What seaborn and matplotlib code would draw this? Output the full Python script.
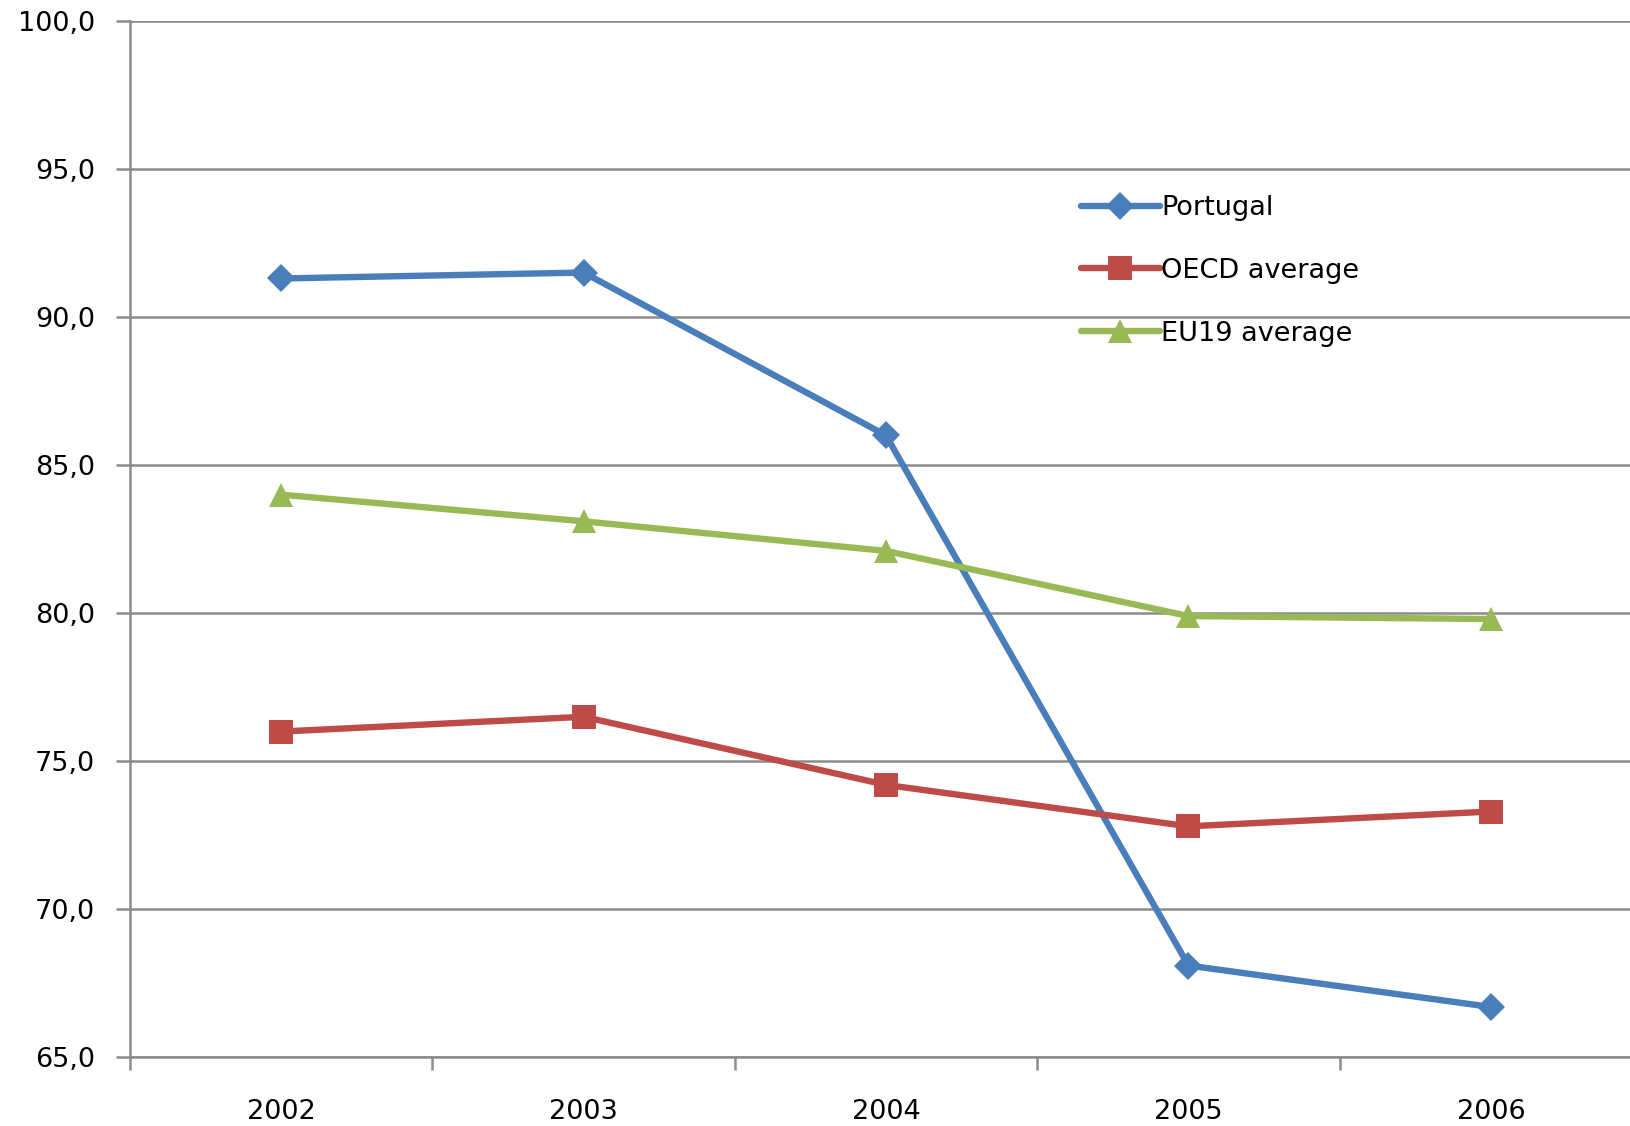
import matplotlib
matplotlib.use("Agg")
import pandas as pd
import seaborn as sns
from matplotlib import pyplot as plt
from matplotlib.ticker import FixedLocator, FuncFormatter

# values
years = ["2002", "2003", "2004", "2005", "2006"]
portugal = [91.3, 91.5, 86.0, 68.1, 66.7]
oecd = [76.0, 76.5, 74.2, 72.8, 73.3]
eu19 = [84.0, 83.1, 82.1, 79.9, 79.8]

series_names = ["Portugal", "OECD average", "EU19 average"]
colors = {"Portugal": "#4A7EBB", "OECD average": "#BE4B48", "EU19 average": "#98B954"}
markers = {"Portugal": "D", "OECD average": "s", "EU19 average": "^"}
msizes = {"Portugal": 14, "OECD average": 17, "EU19 average": 17}

df = pd.DataFrame({"pos": range(len(years)), "year": years,
                   "Portugal": portugal, "OECD average": oecd, "EU19 average": eu19})
long_df = df.melt(id_vars=["pos", "year"], var_name="series", value_name="value")

sns.set_theme(style="white")
plt.rcParams["font.family"] = ["DejaVu Sans"]

fig, ax = plt.subplots(figsize=(16.3, 11.26), dpi=100)
fig.subplots_adjust(left=0.0797, right=1.0, top=0.9815, bottom=0.061)

for name in series_names:
    sub = long_df[long_df["series"] == name]
    sns.lineplot(data=sub, x="pos", y="value", ax=ax, color=colors[name],
                 linewidth=4.6, marker=markers[name], markersize=msizes[name],
                 markeredgewidth=0, label=name)

ax.set_xlim(-0.5, 4.46)
ax.set_ylim(65, 100)
ax.yaxis.set_major_locator(FixedLocator([65, 70, 75, 80, 85, 90, 95, 100]))
ax.yaxis.set_major_formatter(FuncFormatter(lambda v, p: f"{v:.1f}".replace(".", ",")))
ax.xaxis.set_major_locator(FixedLocator(df["pos"].tolist()))
ax.set_xticklabels(years)
ax.xaxis.set_minor_locator(FixedLocator([-0.5, 0.5, 1.5, 2.5, 3.5]))
ax.tick_params(axis="x", which="major", length=0, pad=30, labelsize=19.5, colors="black")
ax.tick_params(axis="x", which="minor", length=9, width=1.8, color="#8c8c8c", bottom=True)
ax.tick_params(axis="y", which="major", length=10, width=1.8, color="#8c8c8c",
               labelsize=19.5, pad=15, left=True, labelcolor="black")
ax.set_xlabel("")
ax.set_ylabel("")

ax.grid(axis="y", color="#8c8c8c", linewidth=1.8)
ax.grid(axis="x", visible=False)
ax.set_axisbelow(True)
for side in ["top", "right"]:
    ax.spines[side].set_visible(False)
for side in ["left", "bottom"]:
    ax.spines[side].set_color("#8c8c8c")
    ax.spines[side].set_linewidth(1.8)

ax.legend(loc="upper left", bbox_to_anchor=(0.625, 0.845), frameon=False,
          fontsize=19.5, handlelength=2.9, handletextpad=0.05, labelspacing=1.36,
          borderpad=0, labelcolor="black")

fig.savefig("out.png", dpi=100)
